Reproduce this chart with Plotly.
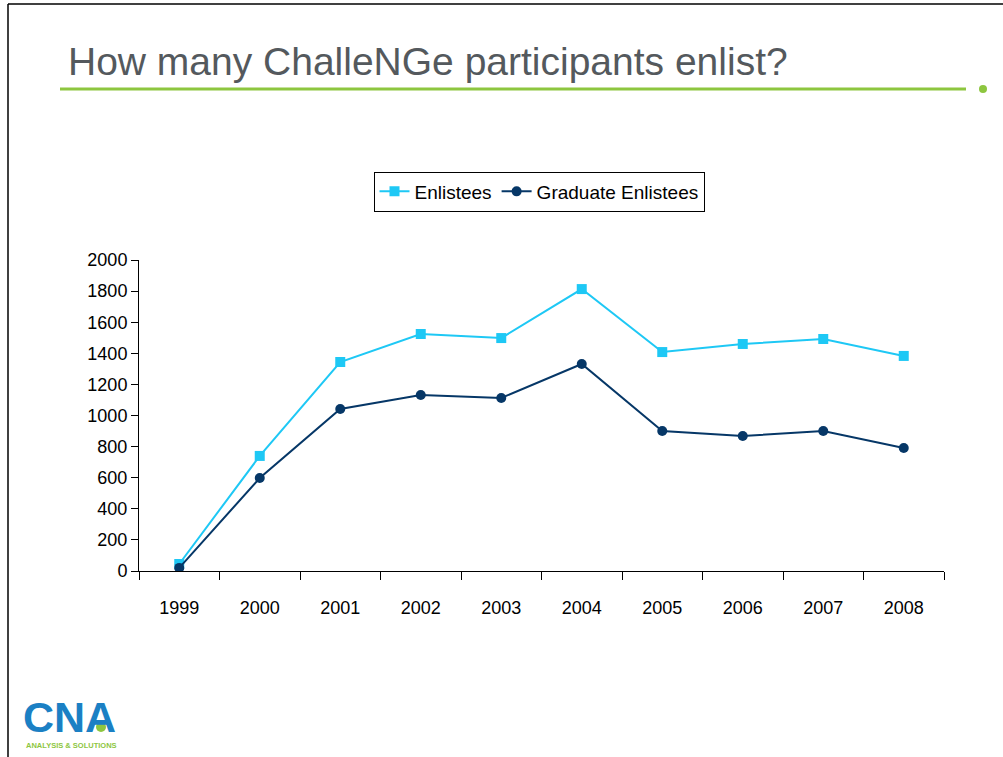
import plotly.graph_objects as go

# ---------------------------
# DATA
# ---------------------------
YEARS = ["1999", "2000", "2001", "2002", "2003", "2004", "2005", "2006", "2007", "2008"]
ENLISTEES = [45, 740, 1344, 1524, 1498, 1813, 1408, 1460, 1492, 1383]
GRAD_ENLISTEES = [20, 598, 1042, 1132, 1113, 1331, 900, 868, 900, 791]
Y_TICKS = [0, 200, 400, 600, 800, 1000, 1200, 1400, 1600, 1800, 2000]

# ---------------------------
# LAYOUT CONSTANTS (pixel positions of the plot box)
# ---------------------------
W, H = 1003, 757
L, R, T, B = 139, 944, 260, 571


def px(x):
    return (x - L) / (R - L)


def py(y):
    return (B - y) / (B - T)


FONT = "Liberation Sans Narrow, Arial Narrow, Liberation Sans, Arial, sans-serif"

fig = go.Figure()

fig.add_trace(go.Scatter(
    x=YEARS, y=ENLISTEES, name="Enlistees", mode="lines+markers",
    line=dict(color="#1ec8f5", width=2),
    marker=dict(symbol="square", size=10, color="#1ec8f5"),
))
fig.add_trace(go.Scatter(
    x=YEARS, y=GRAD_ENLISTEES, name="Graduate Enlistees", mode="lines+markers",
    line=dict(color="#063767", width=2),
    marker=dict(symbol="circle", size=10, color="#063767"),
))

# slide frame
fig.add_shape(type="line", xref="paper", yref="paper",
              x0=px(8), x1=px(1010), y0=py(4), y1=py(4),
              line=dict(color="black", width=1.5))
fig.add_shape(type="line", xref="paper", yref="paper",
              x0=px(8), x1=px(8), y0=py(4), y1=py(760),
              line=dict(color="black", width=1.5))

# green rule under the title
fig.add_shape(type="line", xref="paper", yref="paper",
              x0=px(60), x1=px(966), y0=py(89), y1=py(89),
              line=dict(color="#8dc63f", width=3))
fig.add_shape(type="circle", xref="paper", yref="paper",
              x0=px(979), x1=px(987), y0=py(85), y1=py(93),
              fillcolor="#8dc63f", line=dict(width=0))

# title
fig.add_annotation(x=px(66), y=py(61), xref="paper", yref="paper",
                   text="How many ChalleNGe participants enlist?",
                   showarrow=False, xanchor="left", yanchor="middle",
                   font=dict(family="Liberation Sans, Arial, sans-serif", size=39, color="#54595d"))

# CNA logo
fig.add_annotation(x=px(21), y=py(717), xref="paper", yref="paper",
                   text="<b>CNA</b>", showarrow=False, xanchor="left", yanchor="middle",
                   font=dict(family="Liberation Sans, Arial, sans-serif", size=43, color="#1b80c4"))
fig.add_shape(type="circle", xref="paper", yref="paper",
              x0=px(96), x1=px(106), y0=py(722), y1=py(732),
              fillcolor="#8dc63f", line=dict(width=0))
fig.add_annotation(x=px(24), y=py(745), xref="paper", yref="paper",
                   text="<b>ANALYSIS & SOLUTIONS</b>", showarrow=False, xanchor="left", yanchor="middle",
                   font=dict(family="Liberation Sans, Arial, sans-serif", size=7.5, color="#8dc63f"))

fig.update_layout(
    width=W, height=H,
    margin=dict(l=L, r=W - R, t=T, b=H - B),
    plot_bgcolor="white", paper_bgcolor="white",
    font=dict(family=FONT, size=18, color="black"),
    showlegend=True,
    legend=dict(
        orientation="h", x=px(539), y=py(191.5), xanchor="center", yanchor="middle",
        bordercolor="black", borderwidth=1, bgcolor="white",
        font=dict(family=FONT, size=19, color="black"),
    ),
    xaxis=dict(
        type="category", range=[-0.5, 9.5],
        showline=True, linecolor="black", linewidth=1,
        ticks="outside", tickson="boundaries", ticklen=8, tickcolor="black",
        showgrid=False, zeroline=False, ticklabelstandoff=20,
        fixedrange=True,
    ),
    yaxis=dict(
        range=[0, 2000], tickvals=Y_TICKS,
        showline=True, linecolor="black", linewidth=1,
        ticks="outside", ticklen=7, tickcolor="black",
        showgrid=False, zeroline=False,
        fixedrange=True,
    ),
)

# page body has an 8px default margin; drop it so the figure sits at 0,0
fig.write_html("out.html", config={"displayModeBar": False},
               post_script="document.body.style.margin='0px';")
